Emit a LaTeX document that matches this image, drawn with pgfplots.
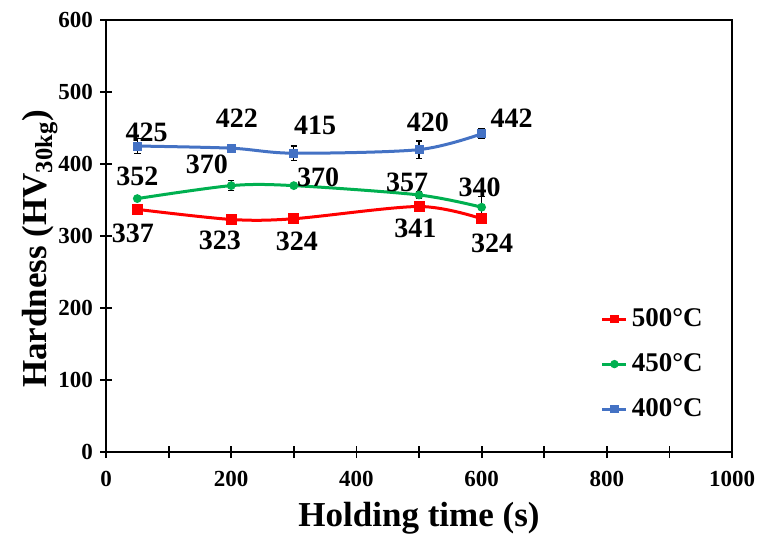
\documentclass[border=0pt]{standalone}
\usepackage{fontspec}
\setmainfont{Liberation Serif}
\usepackage{pgfplots}
\pgfplotsset{compat=1.18}
\definecolor{cred}{RGB}{255,0,0}
\definecolor{cgreen}{RGB}{0,176,80}
\definecolor{cblue}{RGB}{68,114,196}
\begin{document}
\begin{tikzpicture}[font=\bfseries]
\begin{axis}[
  at={(0,0)}, anchor=south west,
  scale only axis, width=313pt, height=216pt,
  xmin=0, xmax=1000, ymin=0, ymax=600,
  xtick={0,200,...,1000}, minor xtick={100,300,...,900},
  ytick={0,100,...,600},
  tick align=center, major tick length=6pt, minor tick length=6pt,
  xtick pos=bottom, ytick pos=left,
  axis line style={line width=1pt}, every tick/.style={black, line width=0.9pt},
  ticklabel style={font=\fontsize{11.5}{12}\selectfont\bfseries},
  /pgf/number format/assume math mode=true,
  /pgf/number format/1000 sep={},
  xticklabel style={yshift=-3pt},
  xlabel={\fontsize{17.5}{18}\selectfont\bfseries Holding time (s)},
  ylabel={\fontsize{17.5}{18}\selectfont\bfseries Hardness (HV\textsubscript{30kg})},
  xlabel style={at={(axis description cs:0.5,0)}, anchor=center, yshift=-33pt},
  ylabel style={at={(axis description cs:0,0.47)}, anchor=center, yshift=33pt},
  legend style={draw=none, fill=none, at={(0.79,0.065)}, anchor=south west,
    font=\fontsize{13.5}{14}\selectfont\bfseries, row sep=8pt, inner sep=0pt},
  legend cell align=left,
  legend image code/.code={\draw[#1] (0pt,0pt) -- (12pt,0pt); \draw[#1, only marks, mark size=1.3pt] plot coordinates {(6pt,0pt)};},
  error bars/error bar style={black, line width=0.6pt},
  error bars/error mark options={rotate=90, mark size=1.6pt, black, line width=0.6pt},
]
\addplot[cred, line width=1.5pt, smooth, tension=0.5, mark=square*, mark size=2pt,
  error bars/.cd, y dir=both, y explicit]
  coordinates {(50,337) +- (0,3) (200,323) +- (0,7) (300,324) +- (0,5) (500,341) +- (0,5) (600,324) +- (0,7)};
\addlegendentry{500°C}
\addplot[cgreen, line width=1.5pt, smooth, tension=0.5, mark=*, mark size=1.4pt,
  error bars/.cd, y dir=both, y explicit]
  coordinates {(50,352) +- (0,2) (200,370) +- (0,7) (300,370) +- (0,3) (500,357) +- (0,5) (600,340) +- (0,15)};
\addlegendentry{450°C}
\addplot[cblue, line width=1.5pt, smooth, tension=0.5, mark=square*, mark size=1.5pt,
  error bars/.cd, y dir=both, y explicit]
  coordinates {(50,425) +- (0,10) (200,422) +- (0,5) (300,415) +- (0,10) (500,420) +- (0,12) (600,442) +- (0,7)};
\addlegendentry{400°C}
\begin{scope}[font=\fontsize{14}{15}\selectfont\bfseries]
\node at (axis cs:65,444) {425};
\node at (axis cs:209,464) {422};
\node at (axis cs:334,454) {415};
\node at (axis cs:514,458) {420};
\node at (axis cs:648,464) {442};
\node at (axis cs:50,383) {352};
\node at (axis cs:161,399) {370};
\node at (axis cs:339,381) {370};
\node at (axis cs:481,374) {357};
\node at (axis cs:597,368) {340};
\node at (axis cs:43,304) {337};
\node at (axis cs:182,294) {323};
\node at (axis cs:305,293) {324};
\node at (axis cs:494,310) {341};
\node at (axis cs:617,290) {324};
\end{scope}
\end{axis}
\pgfresetboundingbox
\useasboundingbox (-53pt,-43pt) rectangle (326pt,226pt);
\end{tikzpicture}
\end{document}
